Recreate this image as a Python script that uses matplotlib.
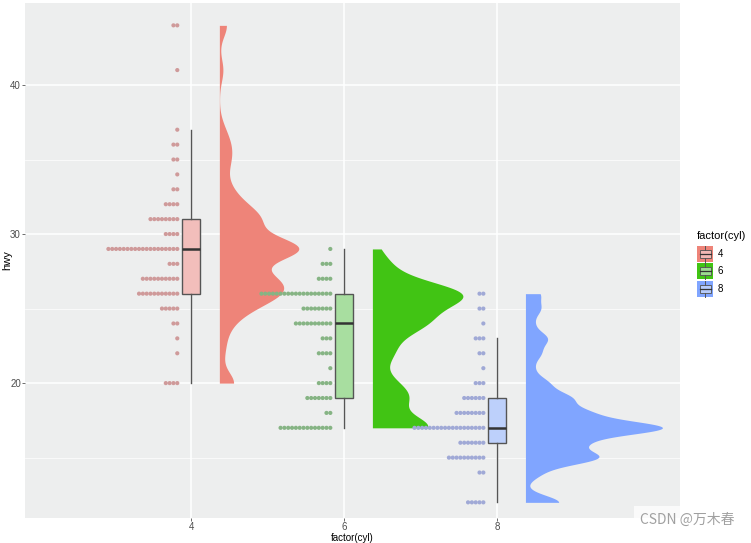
import numpy as np
import matplotlib.pyplot as plt
from matplotlib.patches import Rectangle
from matplotlib.lines import Line2D

plt.rcParams['font.family'] = ['Liberation Sans', 'DejaVu Sans']

# mpg: hwy counts per cylinder group
cyl_levels = [4, 6, 8]
hwy_values = {
    4: [20, 22, 23, 24, 25, 26, 27, 28, 29, 30, 31, 32, 33, 34, 35, 36, 37, 41, 44],
    6: [17, 18, 19, 20, 21, 22, 23, 24, 25, 26, 27, 28, 29],
    8: [12, 14, 15, 16, 17, 18, 19, 20, 21, 22, 23, 24, 25, 26],
}
hwy_counts = {
    4: [4, 1, 1, 2, 5, 11, 10, 3, 19, 4, 8, 4, 2, 1, 2, 2, 1, 1, 2],
    6: [14, 2, 7, 4, 1, 4, 3, 10, 8, 19, 4, 3, 1],
    8: [5, 2, 10, 7, 19, 8, 6, 3, 1, 2, 3, 1, 2, 2],
}

violin_colors = ["#EE8479", "#41C414", "#80A5FF"]
box_colors = ["#F2BEBB", "#A8DEA0", "#BDD0FB"]
dot_colors = ["#CF9A9A", "#86B484", "#A0A9D6"]
bw_adjust = 0.55


def nrd0(x):
    q1, q3 = np.percentile(x, [25, 75])
    s = min(np.std(x, ddof=1), (q3 - q1) / 1.34)
    return 0.9 * s * len(x) ** -0.2


def density(x, grid, bw):
    z = (grid[:, None] - x[None, :]) / bw
    return np.exp(-0.5 * z ** 2).sum(axis=1) / (len(x) * bw * np.sqrt(2 * np.pi))


fig = plt.figure(figsize=(7.51, 5.43), dpi=100)
ax = fig.add_axes([25 / 751, 25 / 543, 655 / 751, 515 / 543])
ax.set_facecolor("#EDEEEE")
for s in ax.spines.values():
    s.set_visible(False)

ax.set_xlim(1.83, 10.39)
ax.set_ylim(10.95, 45.5)
ax.set_xticks(cyl_levels)
ax.set_yticks([20, 30, 40])
ax.set_yticks([15, 25, 35], minor=True)
ax.grid(True, which="major", color="white", lw=1.1)
ax.grid(True, which="minor", axis="y", color="white", lw=0.5)
ax.set_axisbelow(True)
ax.tick_params(which="major", colors="#555555", labelsize=7, length=2.2, width=0.6,
               labelcolor="#4D4D4D", pad=0.8)
ax.tick_params(which="minor", length=0)

# densities first so the violins share one area scale
grids, dens = {}, {}
for c in cyl_levels:
    data = np.repeat(hwy_values[c], hwy_counts[c]).astype(float)
    g = np.linspace(data.min(), data.max(), 512)
    grids[c] = g
    dens[c] = density(data, g, nrd0(data) * bw_adjust)
dmax = max(d.max() for d in dens.values())

for i, c in enumerate(cyl_levels):
    data = np.repeat(hwy_values[c], hwy_counts[c]).astype(float)

    # dot plot, stacked to the left
    for v, n in zip(hwy_values[c], hwy_counts[c]):
        xs = c - 0.18 - 0.05 * np.arange(n)
        ax.scatter(xs, np.full(n, v), s=9, color=dot_colors[i], edgecolors="none", zorder=3)

    # boxplot without outliers
    bp = ax.boxplot([data], positions=[c], widths=0.24, showfliers=False, showcaps=False,
                    patch_artist=True, manage_ticks=False, zorder=4)
    for b in bp["boxes"]:
        b.set_facecolor(box_colors[i])
        b.set_edgecolor("#555555")
        b.set_linewidth(1.0)
    for w in bp["whiskers"]:
        w.set_color("#555555")
        w.set_linewidth(1.0)
    for m in bp["medians"]:
        m.set_color("#333333")
        m.set_linewidth(1.8)

    # flat half violin
    x0 = c + 0.37
    ax.fill_betweenx(grids[c], x0, x0 + 1.79 * dens[c] / dmax, color=violin_colors[i],
                     lw=0, zorder=3)

ax.set_ylabel("hwy", fontsize=8)
ax.yaxis.set_label_coords(-0.019, 0.5)
fig.text(352 / 751, 0.0, "factor(cyl)", fontsize=7, ha="center", va="bottom")

# legend drawn by hand to mimic ggplot boxplot keys
fig.text(697 / 751, 1 - 236 / 543, "factor(cyl)", fontsize=8, va="center", ha="left")
for i, c in enumerate(cyl_levels):
    yc = 1 - (254 + 17.3 * i) / 543
    kx, kw, kh = 697 / 751, 16 / 751, 16 / 543
    fig.add_artist(Rectangle((kx, yc - kh / 2), kw, kh, transform=fig.transFigure,
                             facecolor=violin_colors[i], edgecolor="none"))
    bx, bw_, bh = kx + 2.5 / 751, 11 / 751, 8 / 543
    fig.add_artist(Rectangle((bx, yc - bh / 2), bw_, bh, transform=fig.transFigure,
                             facecolor=box_colors[i], edgecolor="#555555", lw=0.7, alpha=0.9))
    fig.add_artist(Line2D([bx, bx + bw_], [yc, yc], transform=fig.transFigure,
                          color="#333333", lw=0.9))
    fig.add_artist(Line2D([kx + kw / 2] * 2, [yc - kh / 2, yc - bh / 2],
                          transform=fig.transFigure, color="#555555", lw=0.7))
    fig.add_artist(Line2D([kx + kw / 2] * 2, [yc + bh / 2, yc + kh / 2],
                          transform=fig.transFigure, color="#555555", lw=0.7))
    fig.text(718 / 751, yc, str(c), fontsize=7, va="center", ha="left")

# watermark
fig.text(735 / 751, 1 - 520 / 543, "CSDN @万木春", fontsize=10, color="#A0A0A0",
         ha="right", va="center", family=["Noto Sans CJK SC", "DejaVu Sans"],
         bbox=dict(facecolor="white", edgecolor="none", alpha=0.75, pad=5))

fig.savefig("out.png", dpi=100)
